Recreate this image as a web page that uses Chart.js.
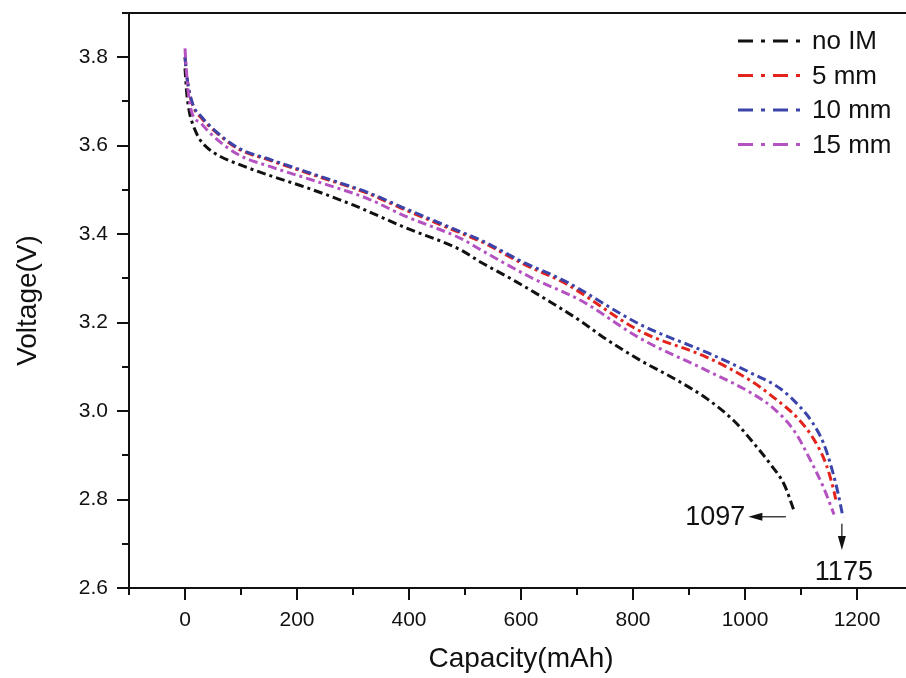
<!DOCTYPE html>
<html>
<head>
<meta charset="utf-8">
<script src="https://cdn.jsdelivr.net/npm/chart.js@4.4.1/dist/chart.umd.min.js"></script>
<style>
  html, body { margin: 0; padding: 0; background: #fff; overflow: hidden; }
  #wrap { width: 916px; height: 678px; }
</style>
</head>
<body>
<div id="wrap"><canvas id="chart" width="916" height="678"></canvas></div>
<script>
// series names
const seriesNames = ['no IM', '5 mm', '10 mm', '15 mm'];

// no IM
const capNoIM = [0, 3, 8, 15, 25, 40, 64, 100, 150, 213, 300, 391, 493, 529, 588, 648, 707, 748, 814, 874, 933, 981, 1017, 1046, 1070, 1088];
const voltNoIM = [3.775, 3.72, 3.675, 3.645, 3.617, 3.595, 3.575, 3.556, 3.533, 3.507, 3.466, 3.416, 3.364, 3.336, 3.295, 3.25, 3.203, 3.166, 3.114, 3.073, 3.027, 2.977, 2.925, 2.879, 2.834, 2.773];

// 5 mm
const cap5 = [0, 3, 7, 15, 29, 52, 95, 154, 243, 327, 391, 493, 529, 605, 677, 814, 933, 1011, 1052, 1094, 1123, 1145, 1159, 1162];
const volt5 = [3.80, 3.76, 3.725, 3.688, 3.663, 3.634, 3.593, 3.566, 3.528, 3.492, 3.456, 3.402, 3.383, 3.332, 3.29, 3.18, 3.121, 3.068, 3.03, 2.984, 2.936, 2.879, 2.818, 2.80];

// 10 mm
const cap10 = [0, 3, 7, 15, 29, 52, 95, 154, 243, 327, 391, 493, 529, 605, 677, 814, 933, 1011, 1064, 1100, 1120, 1140, 1155, 1166, 1175];
const volt10 = [3.80, 3.76, 3.727, 3.69, 3.666, 3.636, 3.595, 3.568, 3.53, 3.494, 3.459, 3.405, 3.386, 3.336, 3.295, 3.195, 3.132, 3.086, 3.05, 3.007, 2.975, 2.928, 2.87, 2.815, 2.76];

// 15 mm
const cap15 = [0, 2, 5, 11, 29, 52, 95, 154, 243, 327, 391, 493, 529, 618, 707, 812, 933, 1011, 1052, 1088, 1118, 1141, 1159];
const volt15 = [3.82, 3.78, 3.73, 3.68, 3.65, 3.62, 3.58, 3.552, 3.516, 3.48, 3.442, 3.39, 3.364, 3.302, 3.25, 3.165, 3.091, 3.041, 3.005, 2.955, 2.886, 2.825, 2.766];

// end-point annotations
const annotLabels = ['1097', '1175'];

const colors = ['#111111', '#e3231c', '#3b44aa', '#b452c2'];
const lineDash = [9, 4, 3, 4];
const fontFamily = '"Liberation Sans", Arial, sans-serif';

function toPoints(xs, ys) {
    return xs.map((x, i) => ({ x: x, y: ys[i] }));
}

const allSeries = [
    toPoints(capNoIM, voltNoIM),
    toPoints(cap5, volt5),
    toPoints(cap10, volt10),
    toPoints(cap15, volt15)
];

// blue over red, magenta over both
const drawOrder = [3, 2, 1, 0];

const datasets = allSeries.map((pts, i) => ({
    label: seriesNames[i],
    data: pts,
    borderColor: colors[i],
    backgroundColor: colors[i],
    borderWidth: 3,
    borderDash: lineDash,
    pointRadius: 0,
    cubicInterpolationMode: 'monotone',
    fill: false,
    order: drawOrder[i]
}));

// tick marks, top border, legend and arrows
const decorations = {
    id: 'decorations',
    afterDraw(chart) {
        const ctx = chart.ctx;
        const area = chart.chartArea;
        const xs = chart.scales.x;
        const ys = chart.scales.y;
        ctx.save();
        ctx.strokeStyle = '#111';
        ctx.lineWidth = 2;
        ctx.setLineDash([]);

        ctx.beginPath();
        ctx.moveTo(area.left - 1, area.top);
        ctx.lineTo(area.right, area.top);
        ctx.stroke();

        for (let v = -100; v <= 1300; v += 100) {
            const px = Math.round(xs.getPixelForValue(v));
            const len = v % 200 === 0 ? 12 : 7;
            ctx.beginPath();
            ctx.moveTo(px, area.bottom);
            ctx.lineTo(px, area.bottom + len);
            ctx.stroke();
        }
        for (let k = 26; k <= 39; k++) {
            const py = Math.round(ys.getPixelForValue(k / 10));
            const len = k % 2 === 0 ? 12 : 7;
            ctx.beginPath();
            ctx.moveTo(area.left - len, py);
            ctx.lineTo(area.left, py);
            ctx.stroke();
        }

        // legend
        ctx.font = '26px ' + fontFamily;
        ctx.textBaseline = 'middle';
        ctx.textAlign = 'left';
        chart.data.datasets.forEach((ds, i) => {
            const y = 41 + i * 34.5;
            ctx.strokeStyle = ds.borderColor;
            ctx.lineWidth = 3;
            ctx.setLineDash([15, 8, 4, 8]);
            ctx.beginPath();
            ctx.moveTo(738, y);
            ctx.lineTo(804, y);
            ctx.stroke();
            ctx.fillStyle = '#111';
            ctx.fillText(ds.label, 812, y + 1);
        });

        // arrows
        ctx.setLineDash([]);
        ctx.strokeStyle = '#111';
        ctx.fillStyle = '#111';
        ctx.lineWidth = 1.2;
        ctx.font = '27px ' + fontFamily;

        const ay = ys.getPixelForValue(2.761);
        const ax1 = xs.getPixelForValue(1073);
        const ax2 = xs.getPixelForValue(1006);
        ctx.beginPath();
        ctx.moveTo(ax1, ay);
        ctx.lineTo(ax2 + 10, ay);
        ctx.stroke();
        ctx.beginPath();
        ctx.moveTo(ax2, ay);
        ctx.lineTo(ax2 + 14, ay - 4);
        ctx.lineTo(ax2 + 14, ay + 4);
        ctx.closePath();
        ctx.fill();
        ctx.textAlign = 'right';
        ctx.fillText(annotLabels[0], ax2 - 3, ay + 1);

        const bx = xs.getPixelForValue(1173);
        const by1 = ys.getPixelForValue(2.745);
        const by2 = ys.getPixelForValue(2.686);
        ctx.beginPath();
        ctx.moveTo(bx, by1);
        ctx.lineTo(bx, by2 - 10);
        ctx.stroke();
        ctx.beginPath();
        ctx.moveTo(bx, by2);
        ctx.lineTo(bx - 4, by2 - 14);
        ctx.lineTo(bx + 4, by2 - 14);
        ctx.closePath();
        ctx.fill();
        ctx.textAlign = 'center';
        ctx.fillText(annotLabels[1], bx + 2, ys.getPixelForValue(2.636));

        ctx.restore();
    }
};

Chart.defaults.font.family = fontFamily;
Chart.defaults.color = '#111';

new Chart(document.getElementById('chart'), {
    type: 'line',
    data: { datasets: datasets },
    options: {
        responsive: false,
        animation: false,
        layout: { padding: { top: 13, right: 3, left: 0, bottom: 0 } },
        plugins: {
            legend: { display: false },
            tooltip: { enabled: false }
        },
        scales: {
            x: {
                type: 'linear',
                min: -100,
                max: 1300,
                afterFit: s => {
                    s.height = 90;
                    s.paddingLeft = 0;
                    s.paddingRight = 0;
                },
                grid: { display: false, drawTicks: false },
                border: { display: true, color: '#111', width: 2 },
                ticks: {
                    stepSize: 100,
                    autoSkip: false,
                    maxRotation: 0,
                    padding: 20,
                    font: { size: 21 },
                    callback: v => (v % 200 === 0 && v >= 0 && v <= 1200) ? String(v) : ''
                },
                title: {
                    display: true,
                    text: 'Capacity(mAh)',
                    font: { size: 28 },
                    padding: { top: 0, bottom: 2 }
                }
            },
            y: {
                type: 'linear',
                min: 2.6,
                max: 3.9,
                afterFit: s => {
                    s.width = 129;
                    s.paddingTop = 0;
                    s.paddingBottom = 0;
                },
                grid: { display: false, drawTicks: false },
                border: { display: true, color: '#111', width: 2 },
                ticks: {
                    stepSize: 0.1,
                    autoSkip: false,
                    padding: 21,
                    font: { size: 21 },
                    callback: v => {
                        const k = Math.round(v * 10);
                        return k % 2 === 0 ? (k / 10).toFixed(1) : '';
                    }
                },
                title: {
                    display: true,
                    text: 'Voltage(V)',
                    font: { size: 28 },
                    padding: { top: 11, bottom: 0 }
                }
            }
        }
    },
    plugins: [decorations]
});
</script>
</body>
</html>
